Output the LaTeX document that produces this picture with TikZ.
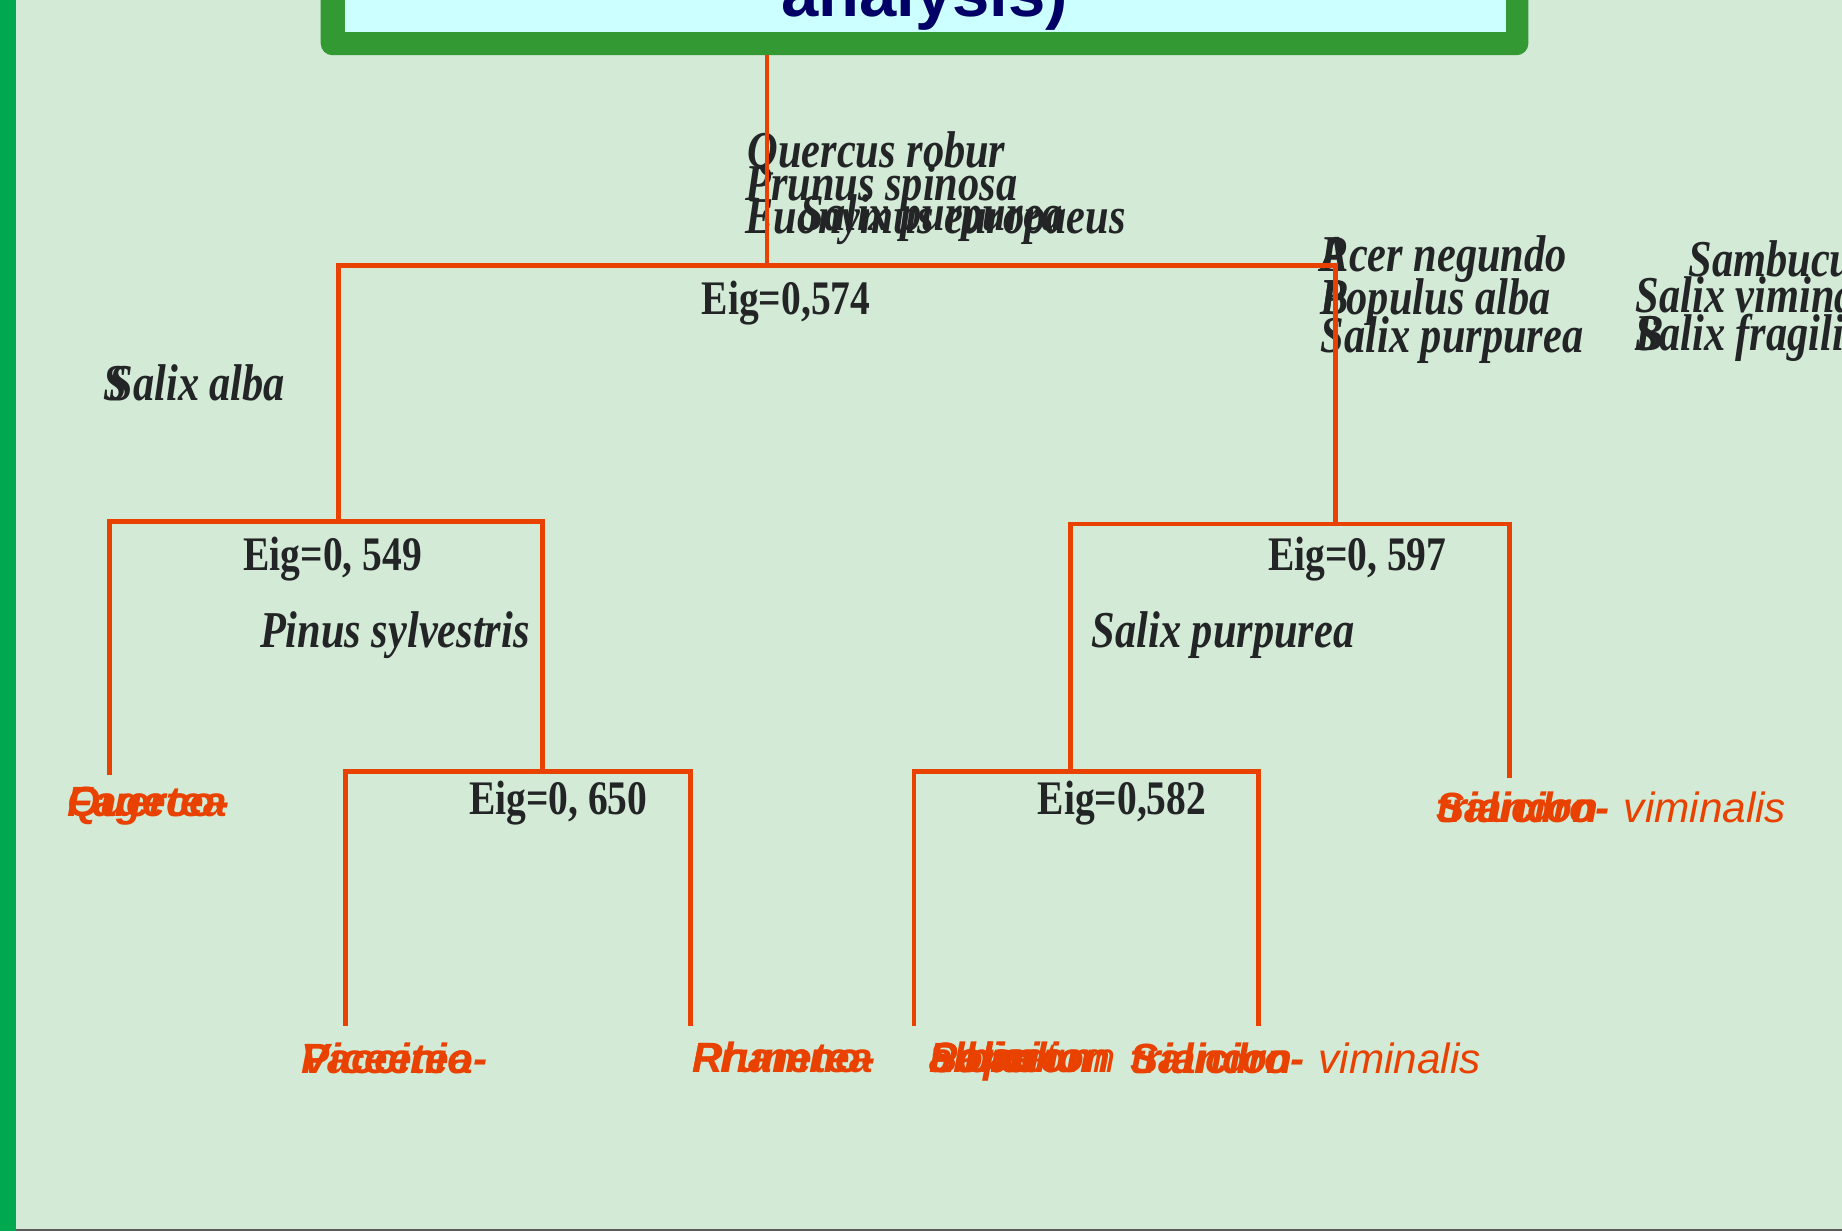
\documentclass[tikz,border=0pt]{standalone}
\usepackage{fontspec}
\setmainfont{Liberation Serif}
\newfontfamily\spfont[FakeStretch=0.82]{Liberation Serif}
\newfontfamily\eigfont[FakeStretch=0.82]{Liberation Serif}
\newfontfamily\leaffont{Liberation Sans}
\newfontfamily\titlefont{Liberation Sans}
\definecolor{bg}{RGB}{211,234,214}
\definecolor{barg}{RGB}{0,168,80}
\definecolor{framegreen}{RGB}{51,153,51}
\definecolor{titlefill}{RGB}{204,255,255}
\definecolor{navy}{RGB}{0,0,102}
\definecolor{ink}{RGB}{34,36,38}
\definecolor{linkred}{RGB}{233,65,0}
\tikzset{
  sp/.style={anchor=base west, inner sep=0pt, text=ink, font=\spfont\bfseries\itshape\fontsize{22}{22}\selectfont},
  eig/.style={anchor=base west, inner sep=0pt, text=ink, font=\eigfont\bfseries\fontsize{20.5}{20.5}\selectfont},
  leaf/.style={anchor=base west, inner sep=0pt, text=linkred, font=\leaffont\bfseries\itshape\fontsize{18}{18}\selectfont},
  leaflight/.style={anchor=base west, inner sep=0pt, text=linkred, font=\leaffont\itshape\fontsize{18}{18}\selectfont},
  link/.style={draw=linkred, line width=2pt, line join=miter}
}
\begin{document}
\begin{tikzpicture}[x=0.5pt,y=-0.5pt]
\useasboundingbox (0,0) rectangle (1568,1048);
\clip (0,0) rectangle (1568,1048);
% background
\fill[bg] (0,0) rectangle (1568,1048);
\fill[barg] (0,0) rectangle (14,1048);
\draw[gray!70!black, line width=0.5pt] (14,1047) -- (1568,1047);
% title box
\fill[framegreen, rounded corners=5pt] (273,-40) rectangle (1301,47);
\fill[titlefill] (294,-40) rectangle (1282,27);
\node[anchor=base, inner sep=0pt, text=navy, font=\titlefont\bfseries\fontsize{28.5}{28.5}\selectfont] (title) at (787,14) {analysis)};

% black species labels
\node[sp] (q1) at (636,143) {Quercus robur};
\node[sp] (q2) at (634,171) {Prunus spinosa};
\node[sp] (q3) at (634,199) {Euonymus europaeus};
\node[sp] (q4) at (681,196) {Salix purpurea};
\node[sp] (r1a) at (1124,231) {P};
\node[sp] (r1) at (1124,231) {Acer negundo};
\node[sp] (r2a) at (1124,268) {B};
\node[sp] (r2) at (1124,268) {Populus alba};
\node[sp] (r3) at (1124,300) {Salix purpurea};
\node[sp] (s1) at (1437,235) {Sambucus nigra};
\node[sp] (s2) at (1392,266) {Salix viminalis};
\node[sp] (s3a) at (1392,298) {B};
\node[sp] (s3) at (1392,298) {Salix fragilis};
\node[sp] (la) at (88,341) {S};
\node[sp] (lb) at (93,341) {Salix alba};
\node[sp] (ps) at (221,551) {Pinus sylvestris};
\node[sp] (sp2) at (929,551) {Salix purpurea};

% eigenvalues
\node[eig] (e1) at (597,268) {Eig=0,574};
\node[eig] (e2) at (207,486) {Eig=0, 549};
\node[eig] (e3) at (1079,486) {Eig=0, 597};
\node[eig] (e4) at (399,693) {Eig=0, 650};
\node[eig] (e5) at (883,693) {Eig=0,582};

% leaf labels
\node[leaf] (l1a) at (57,695) {Querco-};
\node[leaf] (l1b) at (57,695) {Fagetea};
\node[leaf] (l2a) at (256,914) {Vaccinio-};
\node[leaf] (l2b) at (256,914) {Piceetea};
\node[leaf] (l3a) at (589,913) {Rhamno-};
\node[leaf] (l3b) at (589,913) {Prunetea};
\node[leaflight] (l4d) at (791,913) {Salicetum};
\node[leaf] (l4a) at (791,913) {Salicion};
\node[leaf] (l4b) at (791,913) {albae};
\node[leaf] (l4c) at (791,913) {Populion};
\node[leaf] (l5a) at (962,914) {Salicion};
\node[leaf] (l5b) at (962,914) {triandro-};
\node[leaflight] (l5c) at (1122,914) {viminalis};
\node[leaf] (l6a) at (1222,700) {Salicion};
\node[leaf] (l6b) at (1222,700) {triandro-};
\node[leaflight] (l6c) at (1382,700) {viminalis};

% tree coordinates
\coordinate (r0) at (653,47);
\coordinate (rj) at (653,226);
\coordinate (a) at (288,226);
\coordinate (b) at (1137,226);
\coordinate (aj) at (288,444);
\coordinate (bj) at (1137,446);
\coordinate (aL) at (93,444);
\coordinate (aR) at (462,444);
\coordinate (aLe) at (93,660);
\coordinate (aRe) at (462,657);
\coordinate (pL) at (294,657);
\coordinate (pR) at (588,657);
\coordinate (pLe) at (294,873);
\coordinate (pRe) at (588,873);
\coordinate (bL) at (911,446);
\coordinate (bR) at (1285,446);
\coordinate (bLe) at (911,657);
\coordinate (bRe) at (1285,662);
\coordinate (cL) at (778,657);
\coordinate (cR) at (1071,657);
\coordinate (cLe) at (778,873);
\coordinate (cRe) at (1071,873);

% connectors
\draw[link] (r0) -- (rj);
\draw[link] (aj) -- (a) -- (b) -- (bj);
\draw[link] (aLe) -- (aL) -- (aR) -- (aRe);
\draw[link] (pLe) -- (pL) -- (pR) -- (pRe);
\draw[link] (bLe) -- (bL) -- (bR) -- (bRe);
\draw[link] (cLe) -- (cL) -- (cR) -- (cRe);
\end{tikzpicture}
\end{document}
